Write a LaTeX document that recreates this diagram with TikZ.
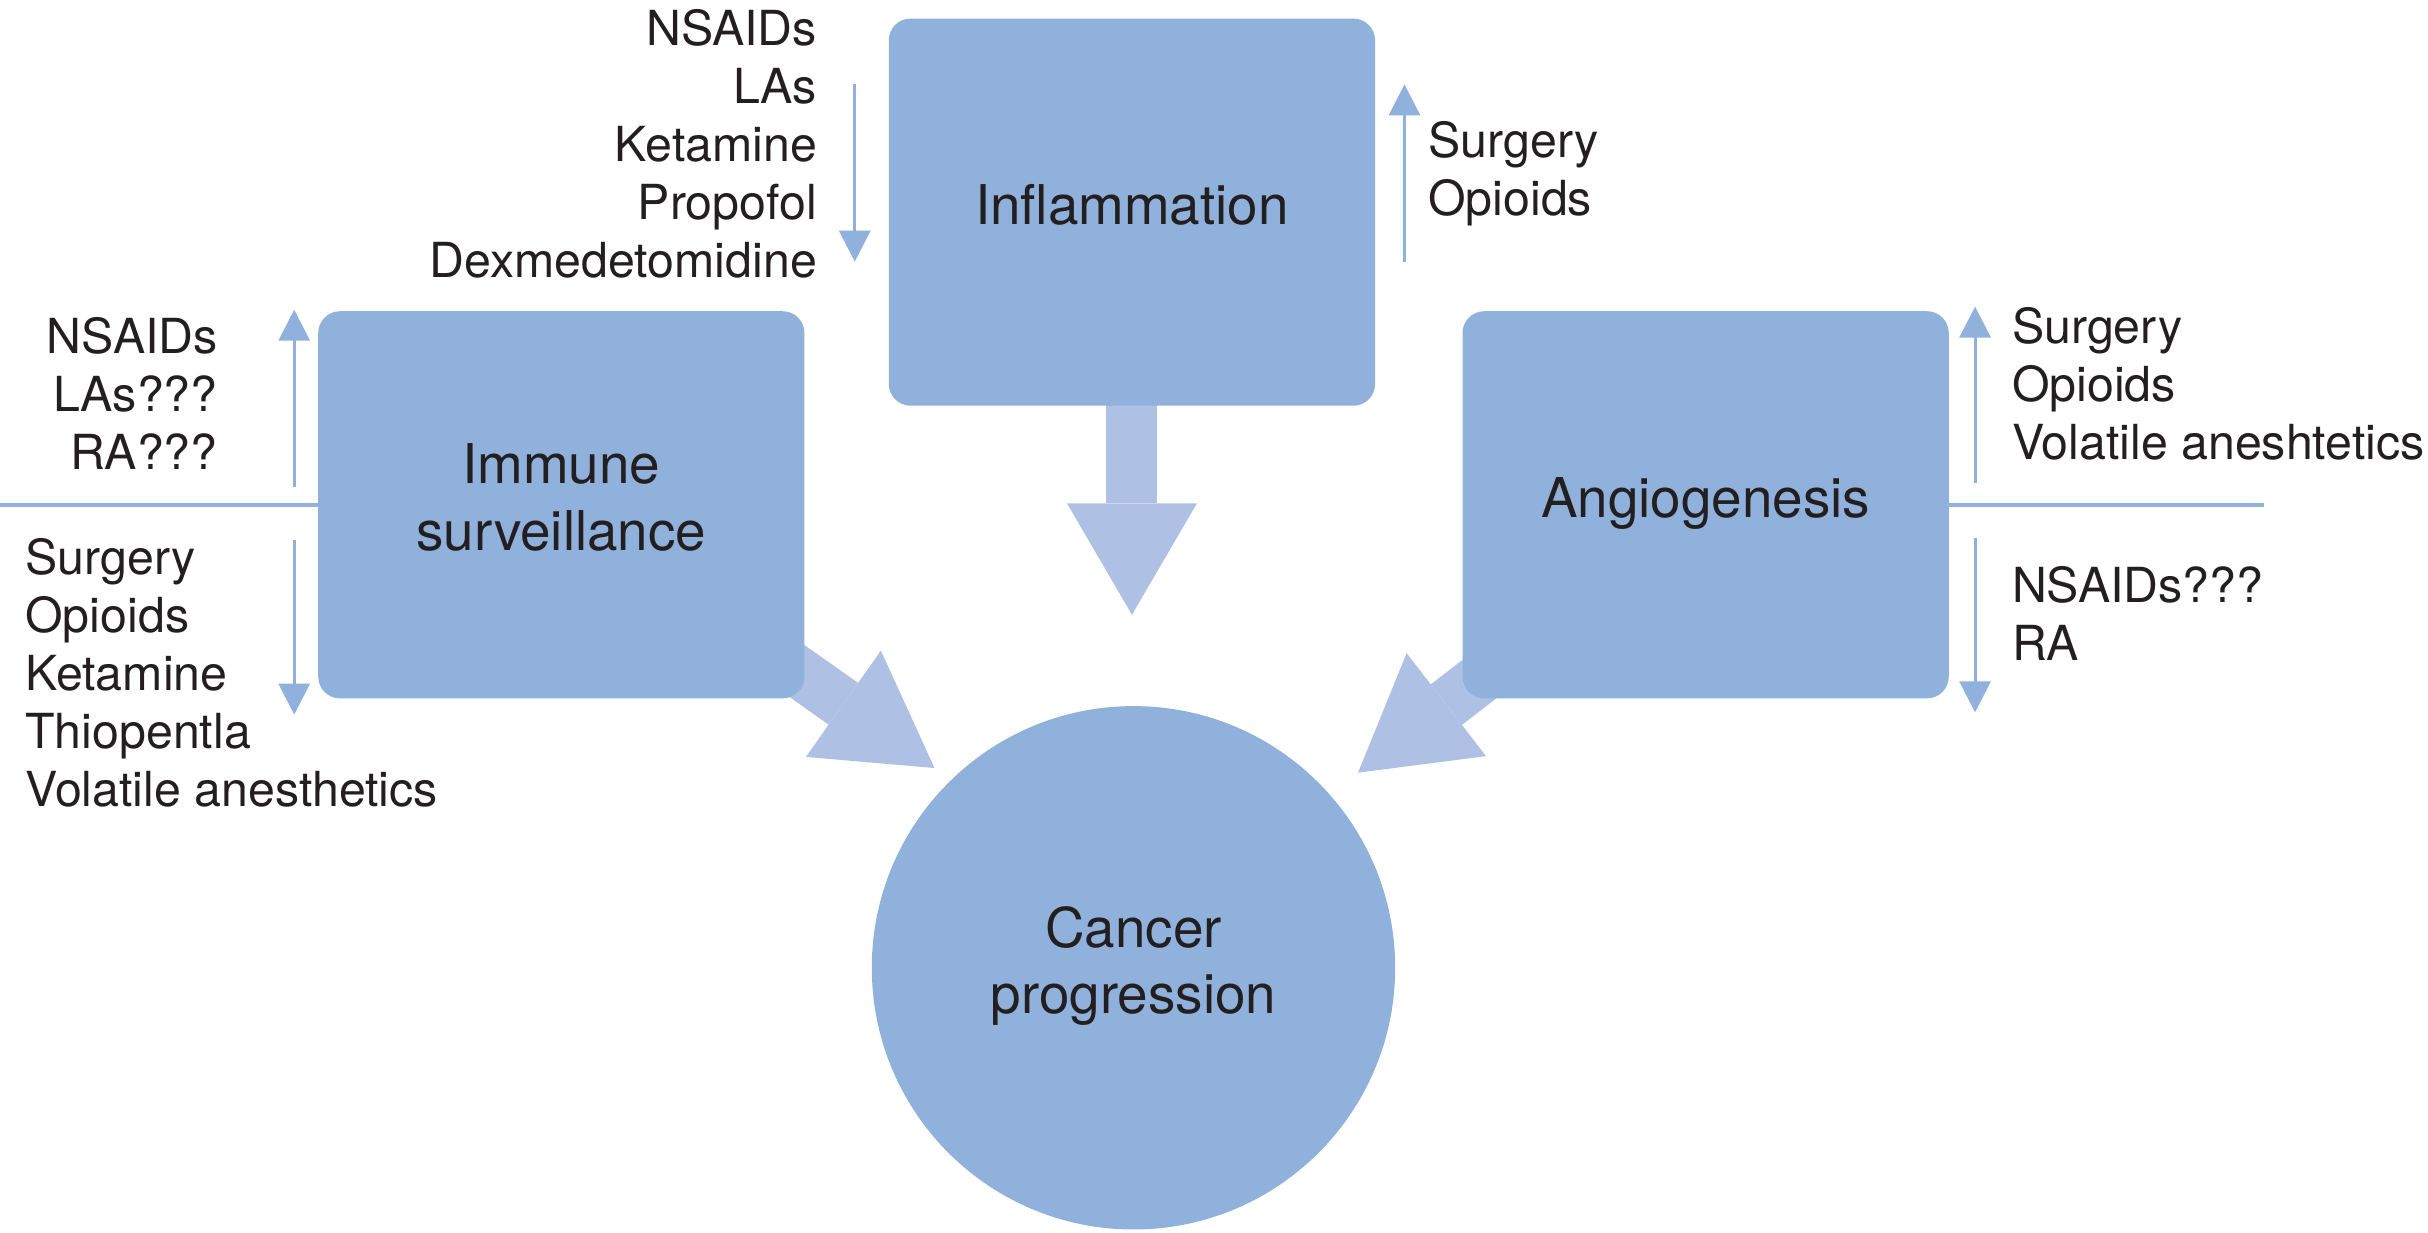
\documentclass[tikz,border=0pt]{standalone}
\usepackage{fontspec}
\setmainfont{TeX Gyre Heros}
\usetikzlibrary{arrows.meta,backgrounds}
\definecolor{boxblue}{RGB}{143,177,220}
\definecolor{flowblue}{RGB}{174,193,229}
\definecolor{inkdark}{RGB}{35,31,32}

\begin{document}
\begin{tikzpicture}[
    x=0.5pt, y=-0.5pt,
    box/.style={rectangle, fill=boxblue, rounded corners=7pt, minimum width=157pt, minimum height=125pt, inner sep=0pt, align=center, text=inkdark, font=\fontsize{17.7}{21.4}\selectfont, text depth=5pt},
    goal/.style={circle, fill=boxblue, minimum size=169pt, inner sep=0pt, align=center, text=inkdark, font=\fontsize{17.7}{21.4}\selectfont, text depth=5pt},
    drugs/.style={inner sep=0pt, text=inkdark, font=\fontsize{15.6}{18.7}\selectfont},
    effect/.style={boxblue, line width=1pt, -{Triangle[length=10pt, width=10pt]}},
    divider/.style={boxblue, line width=1.2pt},
    flow/.style={flowblue, line width=16.5pt, -{Triangle[length=36pt, width=42pt, line width=0pt]}}
]
    \useasboundingbox (0,0) rectangle (1568,796);

    % Central outcome and the three processes
    \node[goal] (cancer) at (732,625) {Cancer\\progression};
    \node[box] (inflam) at (731,137) {Inflammation};
    \node[box] (immune) at (362.5,326) {Immune\\surveillance};
    \node[box] (angio) at (1101.5,326) {Angiogenesis};

    % Block arrows into cancer progression
    \coordinate (inflam-tip) at (731,397);
    \coordinate (immune-tip) at (603.5,496);
    \coordinate (angio-tip) at (877,499);
    \begin{scope}[on background layer]
        \draw[flow] (inflam.center) -- (inflam-tip);
        \draw[flow] (immune.center) -- (immune-tip);
        \draw[flow] (angio.center) -- (angio-tip);
    \end{scope}

    % Drug lists
    \node[drugs, align=right, anchor=north east] (inflam-dec) at (528,5.6) {NSAIDs\\LAs\\Ketamine\\Propofol\\Dexmedetomidine};
    \node[drugs, align=left, anchor=north west] (inflam-inc) at (922,77.9) {Surgery\\Opioids};
    \node[drugs, align=right, anchor=north east] (immune-inc) at (141,204.4) {NSAIDs\\LAs???\\RA???};
    \node[drugs, align=left, anchor=north west] (immune-dec) at (16,347.4) {Surgery\\Opioids\\Ketamine\\Thiopentla\\Volatile anesthetics};
    \node[drugs, align=left, anchor=north west] (angio-inc) at (1299,198) {Surgery\\Opioids\\Volatile aneshtetics};
    \node[drugs, align=left, anchor=north west] (angio-dec) at (1299,365.3) {NSAIDs???\\RA};

    % Up/down effect arrows
    \coordinate (inflam-dec-a) at (552,54.5);
    \coordinate (inflam-dec-b) at (552,169);
    \coordinate (inflam-inc-a) at (907,169);
    \coordinate (inflam-inc-b) at (907,54.5);
    \coordinate (immune-inc-a) at (190,314.6);
    \coordinate (immune-inc-b) at (190,200);
    \coordinate (immune-dec-a) at (190,349);
    \coordinate (immune-dec-b) at (190,461.5);
    \coordinate (angio-inc-a) at (1275.5,312);
    \coordinate (angio-inc-b) at (1275.5,198);
    \coordinate (angio-dec-a) at (1275.5,347.4);
    \coordinate (angio-dec-b) at (1275.5,460);
    \foreach \e in {inflam-dec,inflam-inc,immune-inc,immune-dec,angio-inc,angio-dec}
        \draw[effect] (\e-a) -- (\e-b);

    % Dividers
    \coordinate (immune-rule) at (0,326);
    \coordinate (angio-rule) at (1462,326);
    \draw[divider] (immune-rule) -- (immune.west);
    \draw[divider] (angio.east) -- (angio-rule);
\end{tikzpicture}
\end{document}
